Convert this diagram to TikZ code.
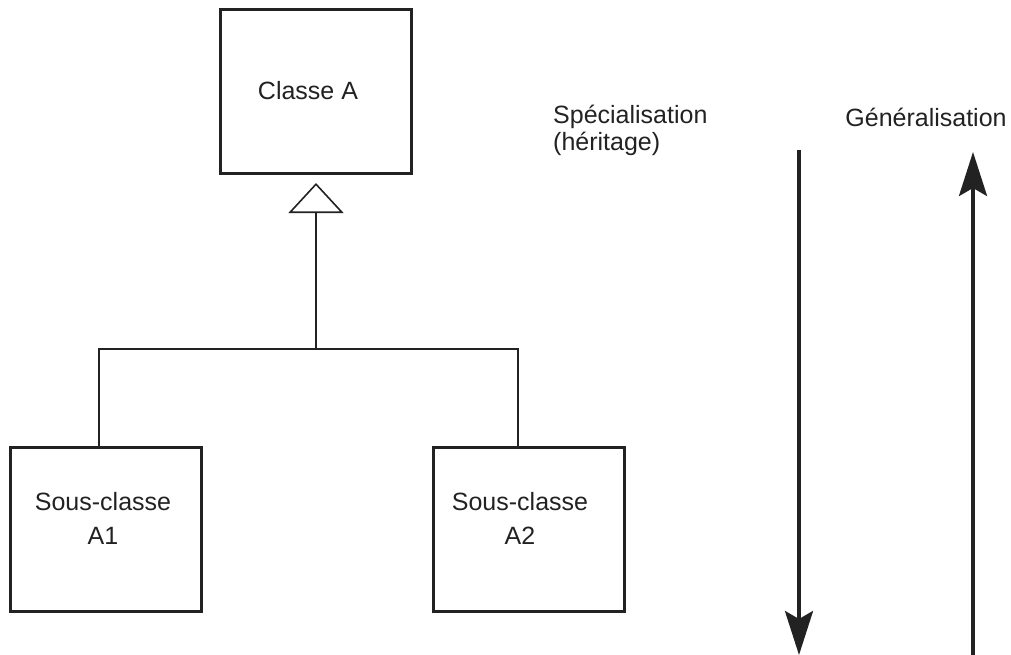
\documentclass[tikz,border=0pt]{standalone}
\usepackage{fontspec}
\setmainfont{Liberation Sans}
\usetikzlibrary{arrows.meta}
\definecolor{ink}{HTML}{222222}
\begin{document}
\begin{tikzpicture}[x=1pt,y=-1pt,
  classbox/.style={draw=ink,line width=3pt,minimum width=191pt,minimum height=164pt,inner sep=0pt},
  txt/.style={text=ink,font=\fontsize{25}{27}\selectfont,inner sep=0pt},
  link/.style={draw=ink,line width=1.6pt},
  bigarrow/.style={draw=ink,line width=3.6pt,-{Stealth[length=44pt,width=28pt,inset=8pt]}}
]
\useasboundingbox (0,0) rectangle (1011,655);

% classes
\node[classbox] (classA) at (316,91.5) {};
\node[txt] (tA) at (308,91) {Classe A};
\node[classbox] (subA1) at (106,529.5) {};
\node[txt,align=center] (tA1) at (103,518) {Sous-classe\\[7pt]A1};
\node[classbox] (subA2) at (528.5,529.5) {};
\node[txt,align=center] (tA2) at (520,518) {Sous-classe\\[7pt]A2};

% inheritance tree
\coordinate (j) at (316,349);
\draw[link] ([xshift=-7pt]subA1.north) |- (j) -| ([xshift=-10.5pt]subA2.north);
\draw[link,-{Triangle[open,length=30pt,width=55pt,line width=1.6pt]},shorten >=8pt] (j) -- (classA.south);

% direction labels
\node[txt,anchor=west] (spec) at (553,117) {Spécialisation};
\node[txt,anchor=west] (herit) at (553,144) {(héritage)};
\node[txt] (gen) at (926,117) {Généralisation};

% direction arrows
\coordinate (sTop) at (799,150);
\coordinate (sBot) at (799,655);
\coordinate (gBot) at (973,655);
\coordinate (gTop) at (973,152);
\draw[bigarrow] (sTop) -- (sBot);
\draw[bigarrow] (gBot) -- (gTop);
\end{tikzpicture}
\end{document}
